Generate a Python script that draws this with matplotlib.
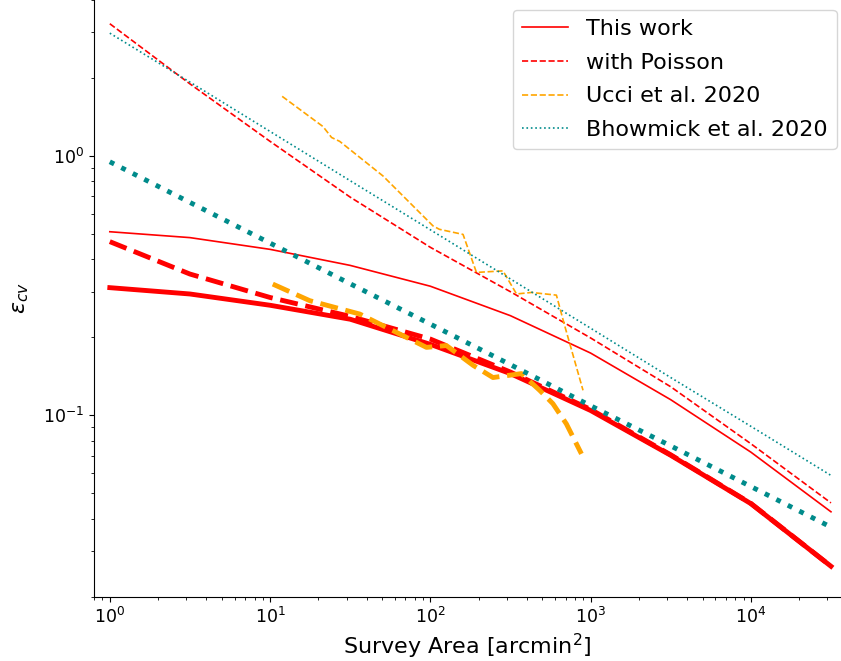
from matplotlib import pyplot as plt
import numpy as np

# Survey areas [arcmin^2], half-decade steps
area = [1, 3.16, 10, 31.6, 100, 316, 1000, 3162, 10000, 31623]

# This work (thin: total, thick: cosmic variance only)
cv_thin = [0.511, 0.485, 0.437, 0.379, 0.315, 0.2425, 0.174, 0.115, 0.0722, 0.0425]
cv_thick = [0.311, 0.294, 0.266, 0.235, 0.188, 0.145, 0.1045, 0.0702, 0.0457, 0.0262]

# with Poisson
poi_thin = [3.24, 1.90, 1.14, 0.695, 0.445, 0.300, 0.199, 0.129, 0.0778, 0.046]
poi_thick = [0.468, 0.351, 0.285, 0.241, 0.197, 0.147, 0.1055, 0.0705, 0.0458, 0.0262]

# Ucci et al. 2020
ucci_thin_x = [11.9, 21.4, 24.2, 27.2, 50.7, 104, 114, 160, 194, 284, 345, 428, 612, 689, 897]
ucci_thin_y = [1.70, 1.30, 1.18, 1.14, 0.838, 0.538, 0.522, 0.499, 0.356, 0.361, 0.294, 0.298, 0.291, 0.222, 0.125]
ucci_thick_x = [10.4, 17.7, 36.3, 67.6, 94.6, 126, 185, 246, 370, 481, 582, 706, 877]
ucci_thick_y = [0.321, 0.277, 0.246, 0.203, 0.183, 0.186, 0.156, 0.140, 0.145, 0.125, 0.111, 0.0928, 0.0711]

# Bhowmick et al. 2020
bh_thin = [2.98, 1.93, 1.245, 0.804, 0.520, 0.336, 0.217, 0.140, 0.0908, 0.0587]
bh_thick = [0.951, 0.663, 0.462, 0.322, 0.225, 0.157, 0.109, 0.0763, 0.0532, 0.0371]

THIN = 1.2
THICK = 3.5

fig = plt.figure(figsize=(8.41, 6.61), dpi=100)
ax = fig.add_axes([0.1121, 0.0973, 0.8867, 0.9027])

ax.plot(area, cv_thin, color="red", lw=THIN, label="This work")
ax.plot(area, poi_thin, color="red", lw=THIN, ls="--", label="with Poisson")
ax.plot(ucci_thin_x, ucci_thin_y, color="orange", lw=THIN, ls="--", label="Ucci et al. 2020")
ax.plot(area, bh_thin, color="darkcyan", lw=THIN, ls=":", label="Bhowmick et al. 2020")

ax.plot(area, cv_thick, color="red", lw=THICK)
ax.plot(area, poi_thick, color="red", lw=THICK, ls="--")
ax.plot(ucci_thick_x, ucci_thick_y, color="orange", lw=THICK, ls="--")
ax.plot(area, bh_thick, color="darkcyan", lw=THICK, ls=":")

ax.set_xscale("log")
ax.set_yscale("log")
ax.set_xlim(0.8, 3.6e4)
ax.set_ylim(0.02, 4)
ax.spines["top"].set_visible(False)
ax.spines["right"].set_visible(False)
ax.tick_params(labelsize=12.5)

ax.set_xlabel("Survey Area [arcmin$^2$]", fontsize=16)
ax.set_ylabel(r"$\varepsilon_{cv}$", fontsize=16)
ax.yaxis.set_label_coords(-0.085, 0.5)
ax.legend(loc="upper right", fontsize=16, handlelength=2.1, labelspacing=0.62,
          bbox_to_anchor=(0.9949, 0.9849), bbox_transform=fig.transFigure,
          borderaxespad=0)

fig.savefig("out.png", dpi=100)
